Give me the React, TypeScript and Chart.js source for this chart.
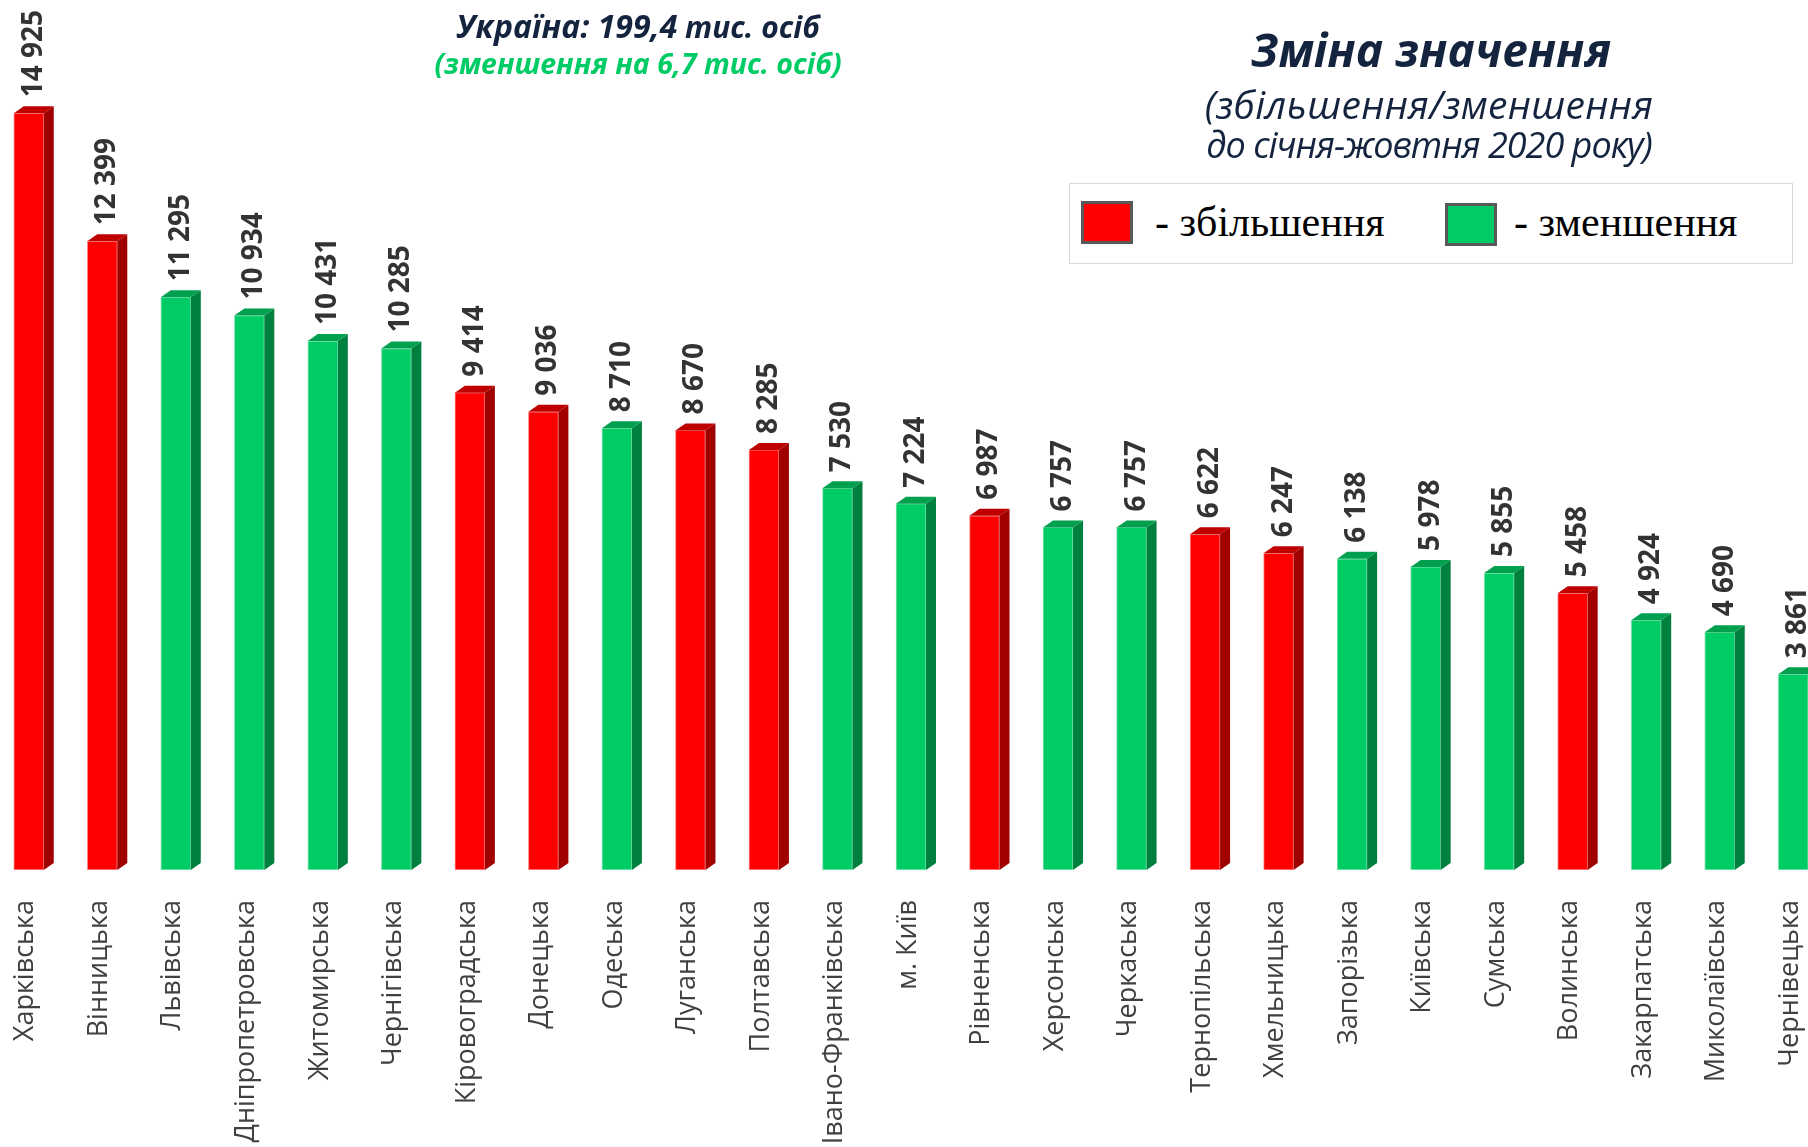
import React, { useEffect, useRef } from 'react';
import { Chart, registerables } from 'chart.js';

Chart.register(...registerables);

// ---------- DATA ----------
const categories = [
  'Харківська', 'Вінницька', 'Львівська', 'Дніпропетровська', 'Житомирська',
  'Чернігівська', 'Кіровоградська', 'Донецька', 'Одеська', 'Луганська',
  'Полтавська', 'Івано-Франківська', 'м. Київ', 'Рівненська', 'Херсонська',
  'Черкаська', 'Тернопільська', 'Хмельницька', 'Запорізька', 'Київська',
  'Сумська', 'Волинська', 'Закарпатська', 'Миколаївська', 'Чернівецька',
];

const values = [
  14925, 12399, 11295, 10934, 10431,
  10285, 9414, 9036, 8710, 8670,
  8285, 7530, 7224, 6987, 6757,
  6757, 6622, 6247, 6138, 5978,
  5855, 5458, 4924, 4690, 3861,
];

// 'up' = збільшення (red), 'down' = зменшення (green)
const direction = [
  'up', 'up', 'down', 'down', 'down',
  'down', 'up', 'up', 'down', 'up',
  'up', 'down', 'down', 'up', 'down',
  'down', 'up', 'up', 'down', 'down',
  'down', 'up', 'down', 'down', 'down',
];

const legendLabels = ['- збільшення', '- зменшення'];
const headerLine1Main = 'Україна: 199,4';
const headerLine1Unit = ' тис. осіб';
const headerLine2 = '(зменшення на 6,7 тис. осіб)';
const rightTitle = 'Зміна значення';
const rightSub1 = '(збільшення/зменшення';
const rightSub2 = 'до січня-жовтня 2020 року)';

const yMax = 17000;

// ---------- STYLE ----------
const PAL = [
  { front: '#FF0000', side: '#A00000', top: '#BE0000', edge: '#FF8C8C' },
  { front: '#00CC66', side: '#00803E', top: '#00A04E', edge: '#86E6B6' },
];
const DX = 10;
const DY = 7;
const NAVY = '#14243E';

const fmt = (v: number) => String(v).replace(/\B(?=(\d{3})+(?!\d))/g, ' ');

const bar3d = {
  id: 'bar3d',
  afterDatasetsDraw(chart: any) {
    const ctx = chart.ctx;
    ctx.save();
    chart.data.datasets.forEach((ds: any, di: number) => {
      const meta = chart.getDatasetMeta(di);
      const pal = PAL[di];
      meta.data.forEach((el: any, i: number) => {
        const v = ds.data[i];
        if (v == null) return;
        const { x, y, base, width } = el.getProps(['x', 'y', 'base', 'width'], true);
        const l = x - width / 2;
        const r = x + width / 2;
        // side face
        ctx.fillStyle = pal.side;
        ctx.beginPath();
        ctx.moveTo(r, y);
        ctx.lineTo(r + DX, y - DY);
        ctx.lineTo(r + DX, base - DY);
        ctx.lineTo(r, base);
        ctx.closePath();
        ctx.fill();
        // top face
        ctx.fillStyle = pal.top;
        ctx.beginPath();
        ctx.moveTo(l, y);
        ctx.lineTo(l + DX, y - DY);
        ctx.lineTo(r + DX, y - DY);
        ctx.lineTo(r, y);
        ctx.closePath();
        ctx.fill();
        // value label
        ctx.save();
        ctx.translate(x + DX / 2, y - DY - 9);
        ctx.rotate(-Math.PI / 2);
        ctx.font = 'bold 28px "Open Sans"';
        ctx.fillStyle = '#333333';
        ctx.textAlign = 'left';
        ctx.textBaseline = 'middle';
        ctx.fillText(fmt(v), 0, 0);
        ctx.restore();
      });
    });
    ctx.restore();
  },
};

export default function App() {
  const ref = useRef<HTMLCanvasElement | null>(null);

  useEffect(() => {
    if (!ref.current) return;
    const chart = new Chart(ref.current, {
      type: 'bar',
      data: {
        labels: categories,
        datasets: [0, 1].map((di) => ({
          label: legendLabels[di],
          data: values.map((v, i) => ((direction[i] === 'up') === (di === 0) ? v : null)),
          backgroundColor: PAL[di].front,
          borderColor: PAL[di].edge,
          borderWidth: 1,
          borderSkipped: false,
          barThickness: 30,
          grouped: false,
        })),
      },
      options: {
        animation: false,
        responsive: false,
        devicePixelRatio: 1,
        layout: { padding: { top: 8, left: 0, right: 0, bottom: 0 } },
        plugins: {
          legend: { display: false },
          tooltip: { enabled: false },
          title: { display: false },
        },
        scales: {
          x: {
            grid: { display: false, drawTicks: true, tickLength: 30 },
            border: { display: false },
            ticks: {
              autoSkip: false,
              minRotation: 90,
              maxRotation: 90,
              padding: 0,
              labelOffset: -3,
              color: '#404040',
              font: { family: '"Open Sans"', size: 27 },
            },
            afterFit: (scale: any) => {
              scale.height = 277;
            },
          },
          y: {
            display: false,
            min: 0,
            max: yMax,
          },
        },
      },
      plugins: [bar3d],
    } as any);
    return () => chart.destroy();
  }, []);

  return (
    <div
      style={{
        position: 'fixed',
        left: 0,
        top: 0,
        width: 1808,
        height: 1147,
        overflow: 'hidden',
        background: '#ffffff',
      }}
    >
      <canvas
        ref={ref}
        width={1838}
        height={1147}
        style={{ position: 'absolute', left: -8, top: 0, width: 1838, height: 1147 }}
      />
      {/* left header */}
      <div
        style={{
          position: 'absolute',
          left: 0,
          width: 1276,
          top: 7,
          textAlign: 'center',
          font: 'italic bold 32px "Open Sans"',
          lineHeight: '38px',
          color: NAVY,
          whiteSpace: 'nowrap',
        }}
      >
        {headerLine1Main}
        <span style={{ fontSize: 30 }}>{headerLine1Unit}</span>
      </div>
      <div
        style={{
          position: 'absolute',
          left: 0,
          width: 1276,
          top: 46,
          textAlign: 'center',
          font: 'italic bold 28.5px "Open Sans"',
          lineHeight: '34px',
          color: '#00CC66',
          whiteSpace: 'nowrap',
        }}
      >
        {headerLine2}
      </div>
      {/* right title */}
      <div
        style={{
          position: 'absolute',
          left: 1131,
          width: 600,
          top: 22,
          textAlign: 'center',
          font: 'italic bold 46px "Open Sans"',
          lineHeight: '54px',
          color: NAVY,
          whiteSpace: 'nowrap',
        }}
      >
        {rightTitle}
      </div>
      <div
        style={{
          position: 'absolute',
          left: 1129,
          width: 600,
          top: 83,
          textAlign: 'center',
          font: 'italic 39px "Open Sans"',
          letterSpacing: '0.3px',
          lineHeight: '42px',
          color: NAVY,
          whiteSpace: 'nowrap',
        }}
      >
        {rightSub1}
      </div>
      <div
        style={{
          position: 'absolute',
          left: 1129,
          width: 600,
          top: 124,
          textAlign: 'center',
          font: 'italic 36px "Open Sans"',
          letterSpacing: '-1px',
          lineHeight: '42px',
          color: NAVY,
          whiteSpace: 'nowrap',
        }}
      >
        {rightSub2}
      </div>
      {/* legend */}
      <div
        style={{
          position: 'absolute',
          left: 1069,
          top: 183,
          width: 724,
          height: 81,
          boxSizing: 'border-box',
          border: '1.5px solid #D9D9D9',
          background: '#fff',
        }}
      >
        {[0, 1].map((di) => (
          <React.Fragment key={di}>
            <div
              style={{
                position: 'absolute',
                left: di === 0 ? 11 : 375,
                top: di === 0 ? 17 : 19,
                width: 52,
                height: 43,
                boxSizing: 'border-box',
                border: '3px solid #595959',
                background: PAL[di].front,
              }}
            />
            <div
              style={{
                position: 'absolute',
                left: di === 0 ? 85 : 444,
                top: 13,
                font: '42px "Liberation Serif"',
                lineHeight: '50px',
                color: '#000',
                whiteSpace: 'nowrap',
              }}
            >
              {legendLabels[di]}
            </div>
          </React.Fragment>
        ))}
      </div>
    </div>
  );
}
